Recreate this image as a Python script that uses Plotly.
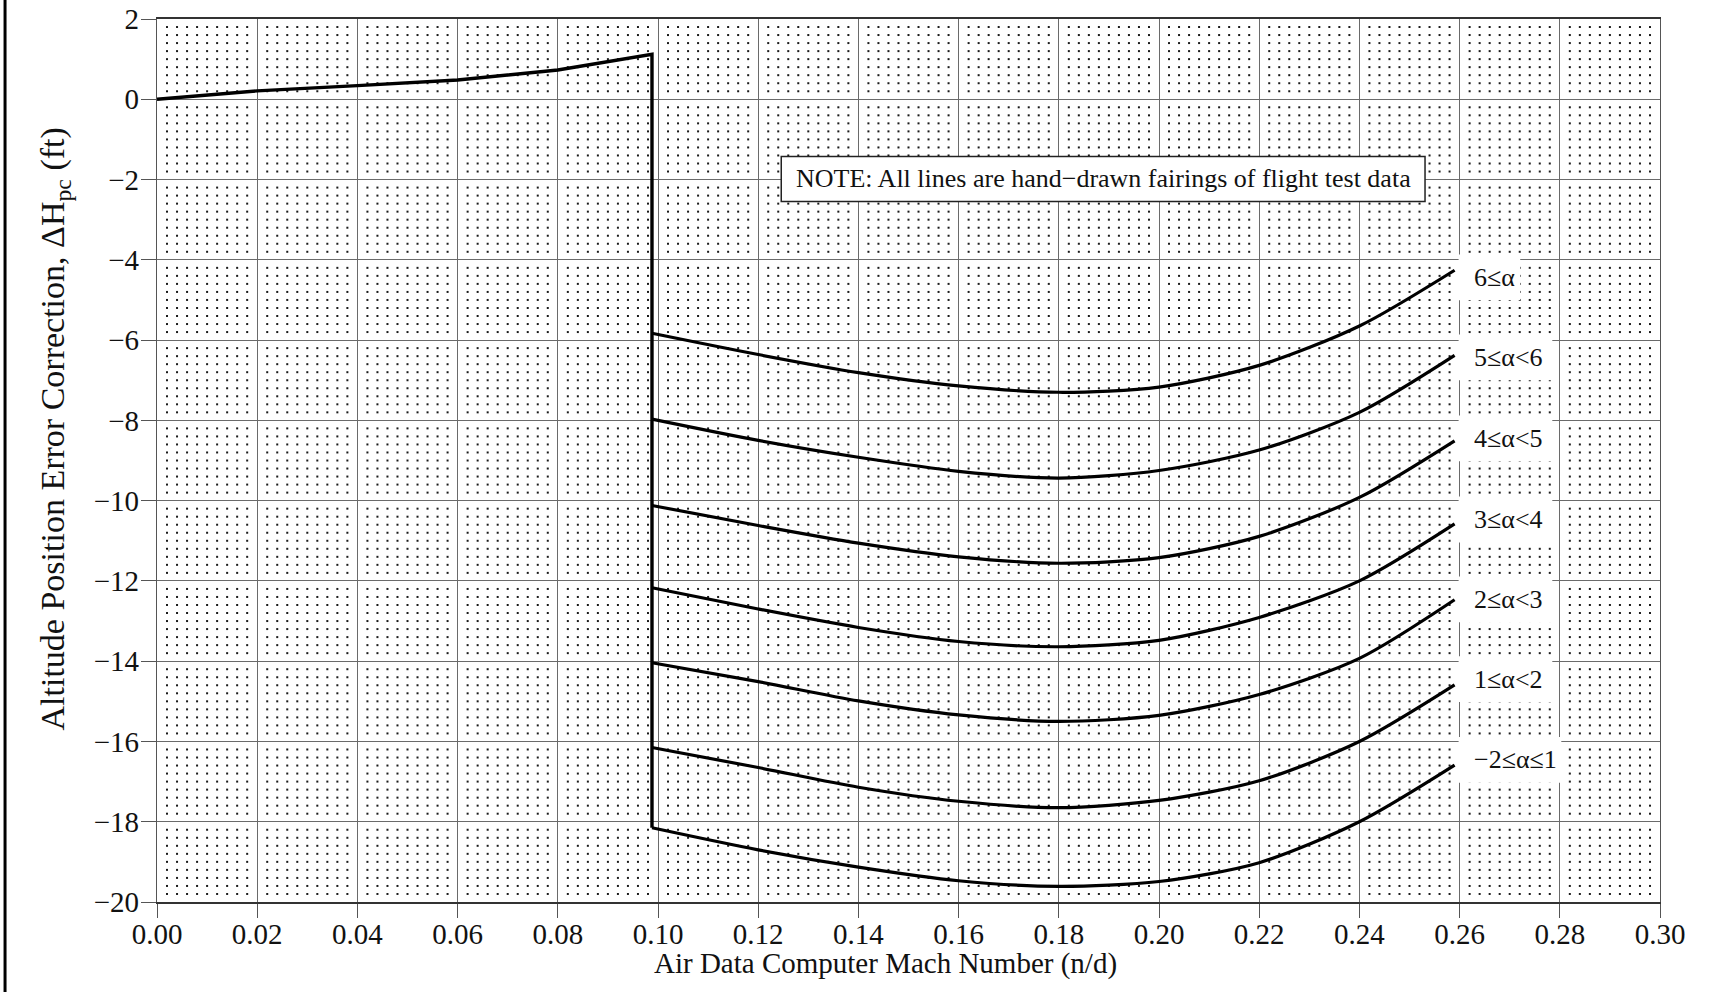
import numpy as np
import plotly.graph_objects as go

# ---------------- data ----------------
# low-speed segment and the step down at M ~ 0.0988
step_mach = [0.0, 0.02, 0.04, 0.06, 0.08, 0.0988, 0.0988]
step_dh = [0.0, 0.21, 0.34, 0.48, 0.73, 1.12, -18.15]

# hand-drawn fairings, one per angle-of-attack band
curve_mach = [0.0988, 0.12, 0.14, 0.16, 0.18, 0.20, 0.22, 0.24, 0.259]
dh_a6 = [-5.83, -6.36, -6.81, -7.14, -7.30, -7.17, -6.63, -5.65, -4.26]
dh_a5_6 = [-7.97, -8.50, -8.92, -9.27, -9.44, -9.25, -8.74, -7.80, -6.38]
dh_a4_5 = [-10.12, -10.62, -11.06, -11.40, -11.56, -11.42, -10.89, -9.92, -8.51]
dh_a3_4 = [-12.17, -12.70, -13.16, -13.51, -13.64, -13.48, -12.91, -12.00, -10.58]
dh_a2_3 = [-14.04, -14.51, -14.99, -15.34, -15.50, -15.35, -14.83, -13.93, -12.47]
dh_a1_2 = [-16.15, -16.65, -17.14, -17.49, -17.65, -17.47, -16.98, -16.00, -14.59]
dh_am2_1 = [-18.15, -18.70, -19.13, -19.47, -19.61, -19.49, -19.02, -18.00, -16.59]

band_labels = ["6≤α", "5≤α<6", "4≤α<5", "3≤α<4", "2≤α<3", "1≤α<2", "−2≤α≤1"]
band_label_y = [-4.44, -6.43, -8.45, -10.47, -12.46, -14.45, -16.46]
band_box_right = [0.2721, 0.2785, 0.2785, 0.2785, 0.2785, 0.2785, 0.2803]

x_ticks = [0.00, 0.02, 0.04, 0.06, 0.08, 0.10, 0.12, 0.14, 0.16, 0.18, 0.20, 0.22, 0.24, 0.26, 0.28, 0.30]
y_ticks = [2, 0, -2, -4, -6, -8, -10, -12, -14, -16, -18, -20]

note_text = "NOTE: All lines are hand−drawn fairings of flight test data"
x_title = "Air Data Computer Mach Number (n/d)"
y_title = "Altitude Position Error Correction, ΔH<sub>pc</sub> (ft)"

FONT = "Liberation Serif"

fig = go.Figure()

# ---- dotted graph-paper background texture ----
xs = [i * 0.002 for i in range(1, 150) if i % 10 != 0]
ys = [-20 + j * 0.2 for j in range(1, 110) if j % 10 != 0]
gx, gy = np.meshgrid(xs, ys)
fig.add_trace(go.Scatter(
    x=gx.ravel(), y=gy.ravel(), mode="markers",
    marker=dict(symbol="square", size=2, color="#1a1a1a", line=dict(width=0)),
    hoverinfo="skip", showlegend=False))

# ---- step segment ----
fig.add_trace(go.Scatter(x=step_mach, y=step_dh, mode="lines",
                         line=dict(color="black", width=3.4),
                         hoverinfo="skip", showlegend=False))

# ---- curves ----
for ys_c in [dh_a6, dh_a5_6, dh_a4_5, dh_a3_4, dh_a2_3, dh_a1_2, dh_am2_1]:
    fig.add_trace(go.Scatter(x=curve_mach, y=ys_c, mode="lines",
                             line=dict(color="black", width=3.2, shape="spline", smoothing=0.8),
                             hoverinfo="skip", showlegend=False))

shapes = []
annotations = []
for lab, ly, xr in zip(band_labels, band_label_y, band_box_right):
    shapes.append(dict(type="rect", xref="x", yref="y", x0=0.2598, x1=xr,
                       y0=ly - 0.57, y1=ly + 0.57, fillcolor="white",
                       line=dict(width=0), layer="above"))
    annotations.append(dict(x=0.2624, y=ly, xref="x", yref="y", text=lab,
                            showarrow=False, xanchor="left", yanchor="middle",
                            font=dict(family=FONT, size=26, color="#111")))

# note box
shapes.append(dict(type="rect", xref="x", yref="y", x0=0.1246, x1=0.2531,
                   y0=-2.545, y1=-1.424, fillcolor="white",
                   line=dict(color="#222", width=1.5), layer="above"))
annotations.append(dict(x=0.18885, y=-1.985, xref="x", yref="y", text=note_text,
                        showarrow=False, xanchor="center", yanchor="middle",
                        font=dict(family=FONT, size=26, color="#111")))

# axis titles
annotations.append(dict(x=0.4844, y=-0.070, xref="paper", yref="paper", text=x_title,
                        showarrow=False, xanchor="center", yanchor="middle",
                        font=dict(family=FONT, size=29, color="#111")))
annotations.append(dict(x=-0.068, y=0.536, xref="paper", yref="paper", text=y_title,
                        showarrow=False, xanchor="center", yanchor="middle", textangle=-90,
                        font=dict(family=FONT, size=34, color="#111")))

# left page border
shapes.append(dict(type="line", xref="paper", yref="paper", x0=-0.1011, x1=-0.1011,
                   y0=-0.2, y1=1.2, line=dict(color="black", width=3)))

fig.update_layout(
    width=1715, height=992,
    margin=dict(l=157, r=55, t=19, b=90, autoexpand=False),
    paper_bgcolor="white", plot_bgcolor="white",
    shapes=shapes, annotations=annotations,
    font=dict(family=FONT, color="#111"),
    xaxis=dict(range=[0, 0.30], tickvals=x_ticks, tickformat=".2f", automargin=False,
               showgrid=True, gridcolor="#6a6a6a", gridwidth=1.2,
               showline=True, linecolor="#333", linewidth=1.5, mirror=True,
               ticks="outside", ticklen=14, tickcolor="#555", tickwidth=1.2,
               ticklabelstandoff=-9, ticklabeloverflow="allow",
               tickfont=dict(family=FONT, size=29, color="#111"), zeroline=False),
    yaxis=dict(range=[-20, 2], tickvals=y_ticks, automargin=False,
               showgrid=True, gridcolor="#6a6a6a", gridwidth=1.2,
               showline=True, linecolor="#555", linewidth=1.2, mirror=True,
               ticks="outside", ticklen=15, tickcolor="#555", tickwidth=1.2,
               ticklabelstandoff=-4, ticklabeloverflow="allow",
               tickfont=dict(family=FONT, size=29, color="#111"), zeroline=False),
)

# remove the default page margin so the figure fills the window exactly
fig.write_html("out.html", config={"displayModeBar": False},
               post_script="document.body.style.margin='0';")
